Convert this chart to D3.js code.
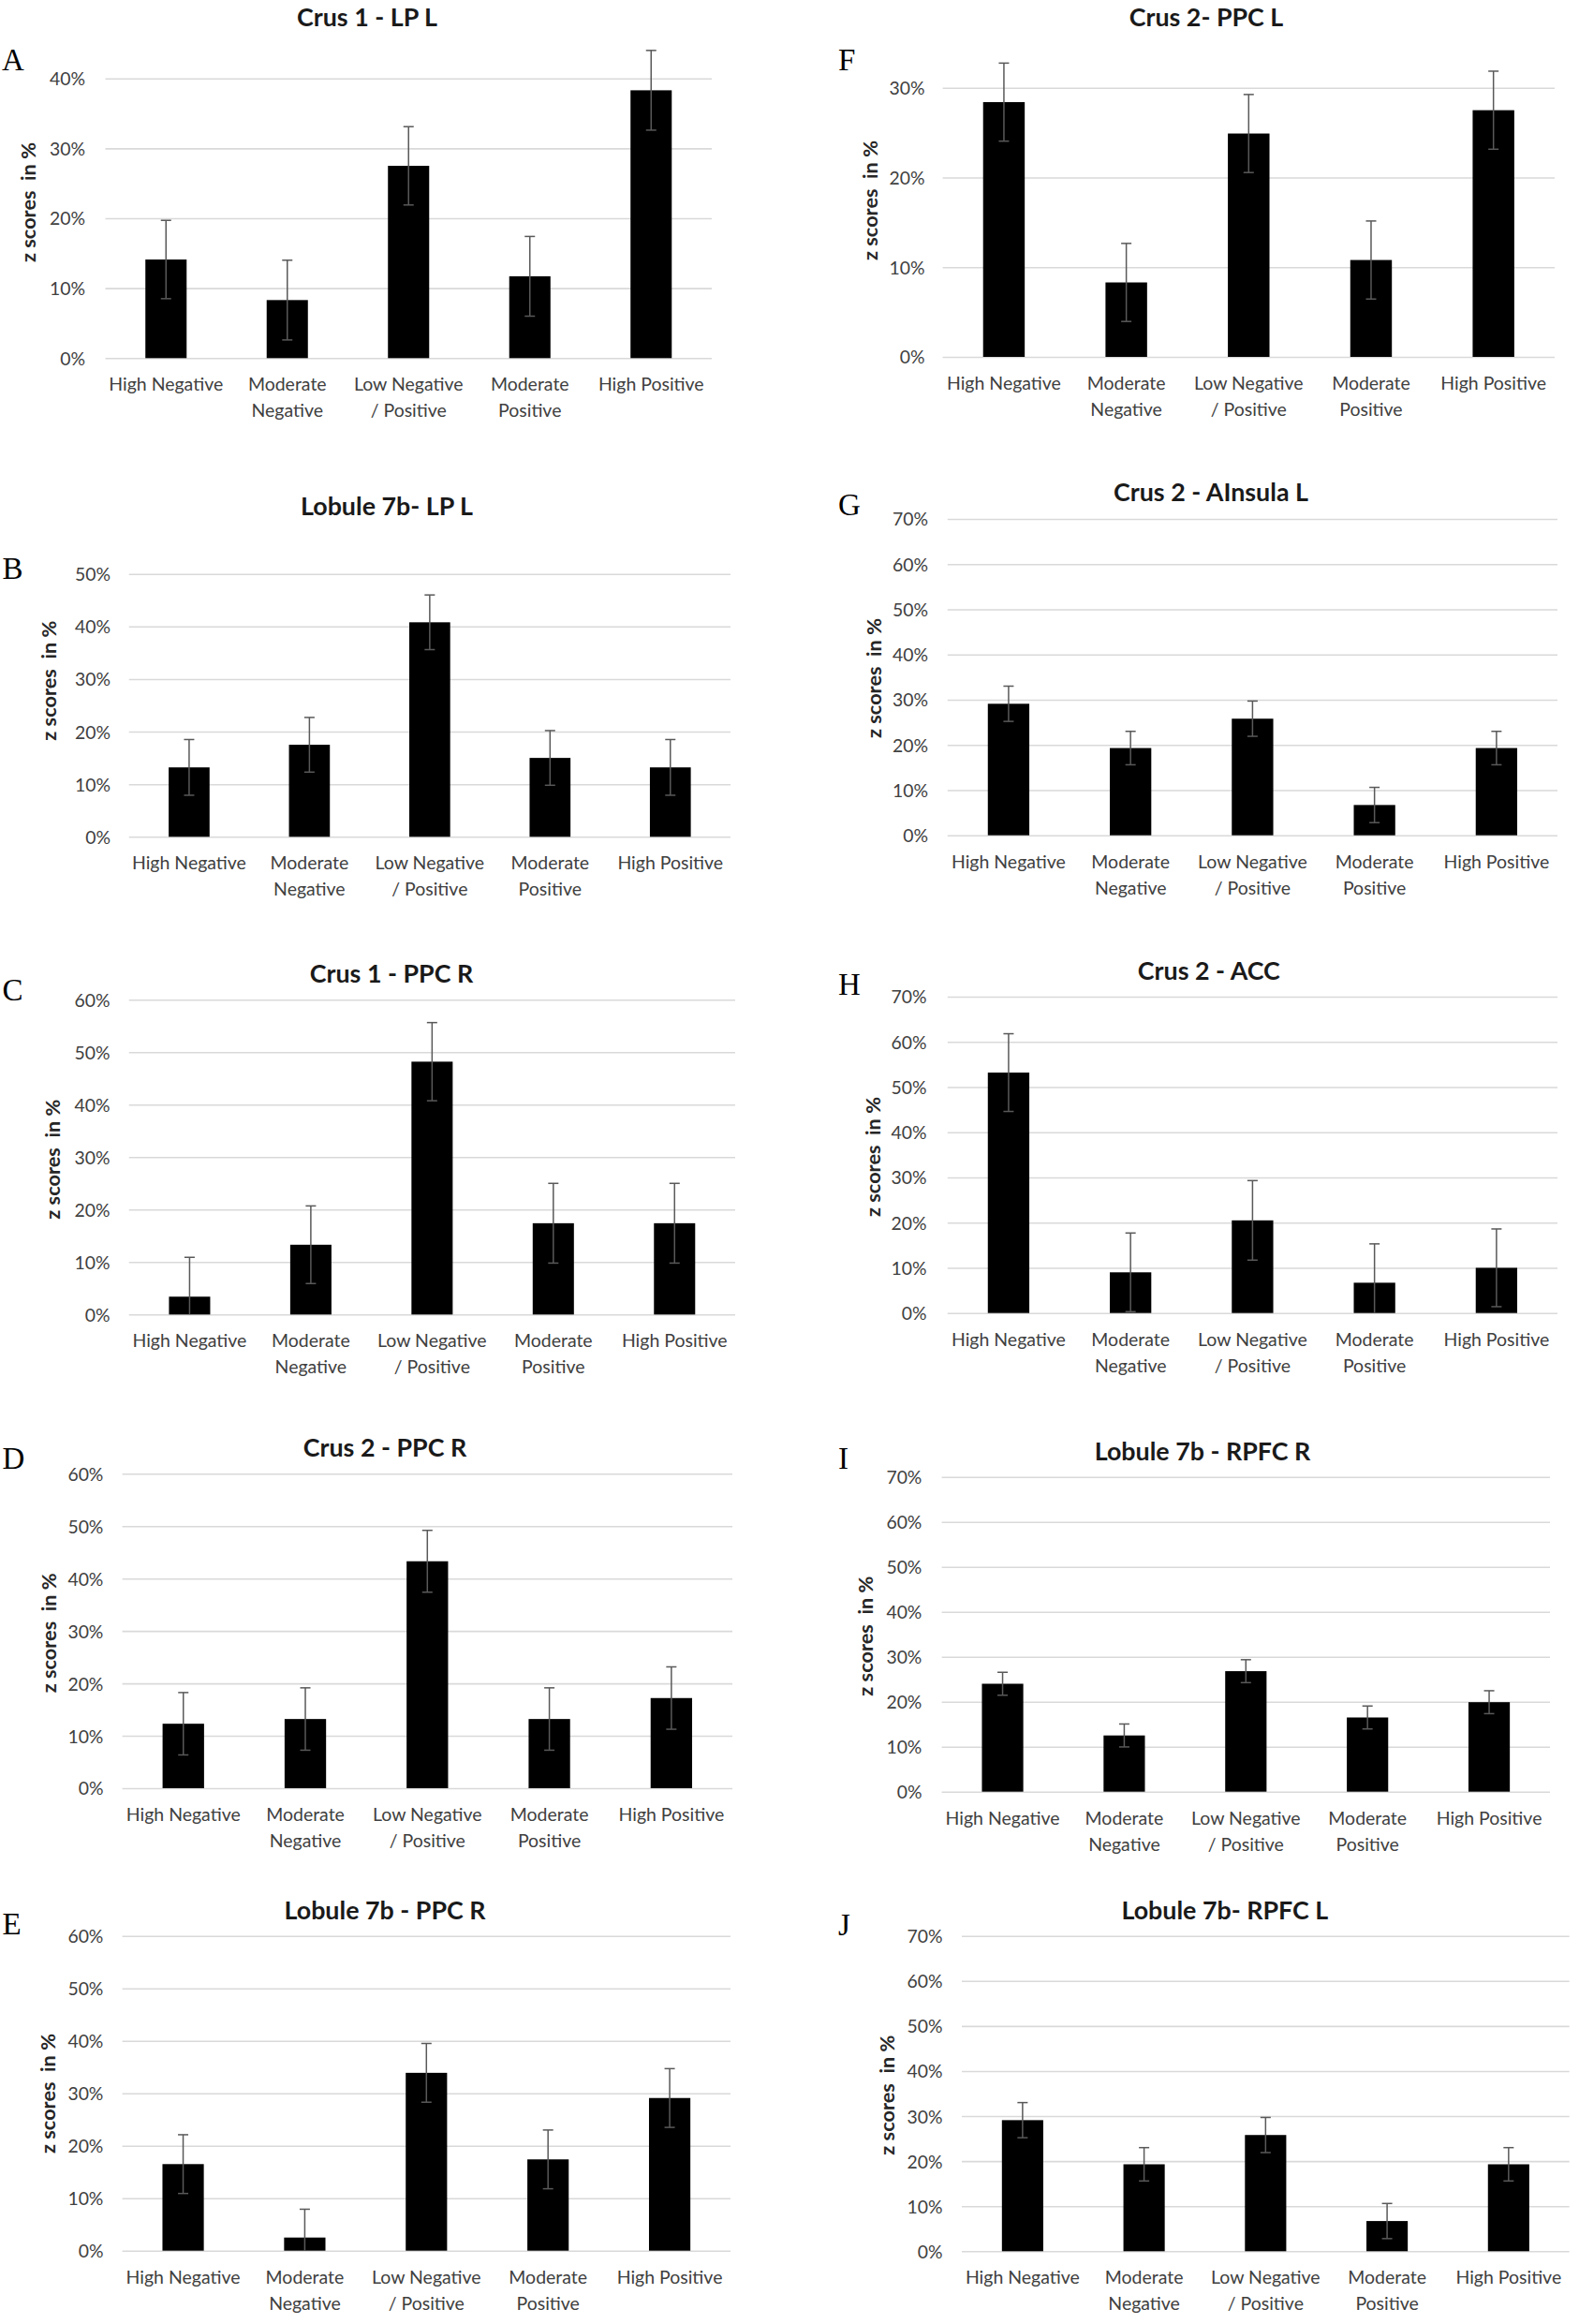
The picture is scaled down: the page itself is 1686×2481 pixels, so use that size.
<!DOCTYPE html>
<html><head><meta charset="utf-8">
<script src="https://cdn.jsdelivr.net/npm/d3@7"></script>
<style>body{margin:0;background:#fff} svg{display:block} text{white-space:pre}</style>
</head><body>
<svg id="chart" width="1686" height="2481"></svg>
<script>
// ---------- DATA ----------
const categories = ["High Negative", "Moderate Negative", "Low Negative / Positive", "Moderate Positive", "High Positive"];
const categoryLines = [["High Negative"], ["Moderate", "Negative"], ["Low Negative", "/ Positive"], ["Moderate", "Positive"], ["High Positive"]];
const panelLetters = ["A", "F", "B", "G", "C", "H", "D", "I", "E", "J"];
const panelTitles = ["Crus 1 - LP L", "Crus 2- PPC L", "Lobule 7b- LP L", "Crus 2 - AInsula L", "Crus 1 - PPC R",
                     "Crus 2 - ACC", "Crus 2 - PPC R", "Lobule 7b - RPFC R", "Lobule 7b - PPC R", "Lobule 7b- RPFC L"];
const axisMax = [40, 30, 50, 70, 60, 70, 60, 70, 60, 70];
const tickStep = 10;
const yAxisTitle = "z scores  in %";

const valuesA = [14.1, 8.3, 27.5, 11.7, 38.3];  const errorsA = [5.6, 5.7, 5.6, 5.7, 5.7];
const valuesF = [28.4, 8.3, 24.9, 10.8, 27.5];  const errorsF = [4.35, 4.35, 4.35, 4.35, 4.35];
const valuesB = [13.2, 17.5, 40.8, 15.0, 13.2]; const errorsB = [5.3, 5.2, 5.2, 5.2, 5.3];
const valuesG = [29.1, 19.3, 25.8, 6.7, 19.3];  const errorsG = [3.9, 3.7, 3.9, 3.9, 3.7];
const valuesC = [3.4, 13.3, 48.2, 17.4, 17.4];  const errorsC = [7.5, 7.4, 7.45, 7.6, 7.6];
const valuesH = [53.2, 9.0, 20.5, 6.7, 10.0];   const errorsH = [8.6, 8.7, 8.8, 8.6, 8.6];
const valuesD = [12.3, 13.2, 43.3, 13.2, 17.2]; const errorsD = [5.95, 5.95, 5.9, 5.95, 5.95];
const valuesI = [24.0, 12.5, 26.8, 16.5, 19.9]; const errorsI = [2.55, 2.55, 2.55, 2.55, 2.55];
const valuesE = [16.5, 2.5, 33.9, 17.4, 29.1];  const errorsE = [5.6, 5.4, 5.6, 5.6, 5.6];
const valuesJ = [29.1, 19.3, 25.8, 6.7, 19.3];  const errorsJ = [3.9, 3.7, 3.9, 3.9, 3.7];

const seriesValues = [valuesA, valuesF, valuesB, valuesG, valuesC, valuesH, valuesD, valuesI, valuesE, valuesJ];
const seriesErrors = [errorsA, errorsF, errorsB, errorsG, errorsC, errorsH, errorsD, errorsI, errorsE, errorsJ];

// ---------- LAYOUT ----------
const layout = [
  {gl:112.5, gr:760,   y0:382.3,  yt:83.7,   tx:392,    ty:28,   lx:2,   ly:75,     yx:30,    yy:216,    tr:91},
  {gl:1006.6,gr:1660,  y0:381,    yt:93.7,   tx:1288,   ty:28,   lx:895, ly:75,     yx:929,   yy:214,    tr:987.5},
  {gl:137.7, gr:780,   y0:893.3,  yt:612.7,  tx:413,    ty:550,  lx:2.5, ly:618,    yx:51.6,  yy:726.7,  tr:118},
  {gl:1011.8,gr:1663,  y0:891.7,  yt:554,    tx:1293,   ty:535,  lx:895, ly:550,    yx:932.5, yy:724,    tr:991},
  {gl:137.7, gr:785,   y0:1403.3, yt:1067.3, tx:418,    ty:1049, lx:2.5, ly:1068,   yx:56,    yy:1237.7, tr:117.5},
  {gl:1011.8,gr:1663,  y0:1401.7, yt:1064,   tx:1290.8, ty:1046, lx:895, ly:1061.7, yx:931.7, yy:1235,   tr:989.5},
  {gl:130.6, gr:782,   y0:1909,   yt:1573.3, tx:411,    ty:1555, lx:2.5, ly:1568,   yx:52,    yy:1743.3, tr:110.4},
  {gl:1005.6,gr:1655,  y0:1912.7, yt:1576.7, tx:1284,   ty:1559, lx:895, ly:1568,   yx:924,   yy:1746.7, tr:984.4},
  {gl:130.6, gr:780,   y0:2402.7, yt:2066.7, tx:411,    ty:2049, lx:2.5, ly:2065,   yx:50.6,  yy:2235,   tr:110.4},
  {gl:1027,  gr:1675.7,y0:2403.3, yt:2066.7, tx:1307.8, ty:2049, lx:895, ly:2066,   yx:947,   yy:2236.7, tr:1006.6}
];

const svg = d3.select("#chart");
svg.append("rect").attr("width", 1686).attr("height", 2481).attr("fill", "#fff");

const sansFamily = "Lato, 'Open Sans', sans-serif";
function fitSize(family, weight, sample, target) {
  const t = svg.append("text").attr("font-family", family).attr("font-weight", weight)
    .attr("font-size", 100).text(sample);
  const w = t.node().getComputedTextLength();
  t.remove();
  return 100 * target / w;
}
const catSize = fitSize(sansFamily, 400, "High Negative", 122);
const tickSize = fitSize(sansFamily, 400, "40%", 38);
const titleSize = fitSize(sansFamily, 700, "Crus 1 - LP L", 150);
const ylabSize = fitSize(sansFamily, 700, yAxisTitle, 128);

panelTitles.forEach((title, p) => {
  const L = layout[p];
  const values = seriesValues[p], errs = seriesErrors[p];
  const g = svg.append("g");

  const x = d3.scaleBand().domain(categories).range([L.gl, L.gr]).paddingInner(0.66).paddingOuter(0.33);
  const y = d3.scaleLinear().domain([0, axisMax[p]]).range([L.y0, L.yt]);
  const ticks = d3.range(0, axisMax[p] + 0.001, tickStep);

  // gridlines via axis
  const grid = g.append("g").attr("transform", `translate(${L.gl},0)`)
    .call(d3.axisLeft(y).tickValues(ticks).tickSize(-(L.gr - L.gl)).tickFormat(""));
  grid.select(".domain").remove();
  grid.selectAll(".tick line").attr("stroke", "#d9d9d9").attr("stroke-width", 1.6);

  // tick labels
  const tl = g.append("g").attr("transform", `translate(${L.tr},0)`)
    .call(d3.axisLeft(y).tickValues(ticks).tickSize(0).tickPadding(0).tickFormat(d => d + "%"));
  tl.select(".domain").remove();
  tl.selectAll(".tick text").attr("font-family", sansFamily).attr("font-size", tickSize)
    .attr("fill", "#404040").attr("dy", "0.36em");

  // bars
  g.selectAll(".bar").data(values).join("rect")
    .attr("x", (d, i) => x(categories[i]))
    .attr("width", x.bandwidth())
    .attr("y", d => y(d))
    .attr("height", d => y(0) - y(d))
    .attr("fill", "#000");

  // error bars
  const cap = 5.5;
  const eb = g.selectAll(".err").data(values.map((v, i) => ({v, e: errs[i], c: categories[i]}))).join("g");
  eb.append("line")
    .attr("x1", d => x(d.c) + x.bandwidth() / 2).attr("x2", d => x(d.c) + x.bandwidth() / 2)
    .attr("y1", d => y(d.v + d.e)).attr("y2", d => y(Math.max(0, d.v - d.e)))
    .attr("stroke", "#595959").attr("stroke-width", 1.5);
  eb.append("line")
    .attr("x1", d => x(d.c) + x.bandwidth() / 2 - cap).attr("x2", d => x(d.c) + x.bandwidth() / 2 + cap)
    .attr("y1", d => y(d.v + d.e)).attr("y2", d => y(d.v + d.e))
    .attr("stroke", "#595959").attr("stroke-width", 1.5);
  eb.filter(d => d.v - d.e > 0).append("line")
    .attr("x1", d => x(d.c) + x.bandwidth() / 2 - cap).attr("x2", d => x(d.c) + x.bandwidth() / 2 + cap)
    .attr("y1", d => y(d.v - d.e)).attr("y2", d => y(d.v - d.e))
    .attr("stroke", "#595959").attr("stroke-width", 1.5);

  // category labels
  categories.forEach((c, i) => {
    const t = g.append("text").attr("text-anchor", "middle")
      .attr("font-family", sansFamily).attr("font-size", catSize).attr("fill", "#404040");
    categoryLines[i].forEach((line, k) => {
      t.append("tspan").attr("x", x(c) + x.bandwidth() / 2).attr("y", y(0) + 35 + k * 28).text(line);
    });
  });

  // title
  g.append("text").attr("x", L.tx).attr("y", L.ty).attr("text-anchor", "middle")
    .attr("font-family", sansFamily).attr("font-weight", 700).attr("font-size", titleSize)
    .attr("fill", "#1a1a1a").text(title);

  // y axis title
  g.append("text").attr("transform", `translate(${L.yx + 8},${L.yy}) rotate(-90)`)
    .attr("text-anchor", "middle").attr("font-family", sansFamily)
    .attr("font-weight", 700).attr("font-size", ylabSize).attr("fill", "#262626").text(yAxisTitle);

  // panel letter
  g.append("text").attr("x", L.lx).attr("y", L.ly)
    .attr("font-family", "'Liberation Serif', 'Times New Roman', serif").attr("font-size", 33)
    .attr("fill", "#000").text(panelLetters[p]);
});
</script>
</body></html>
